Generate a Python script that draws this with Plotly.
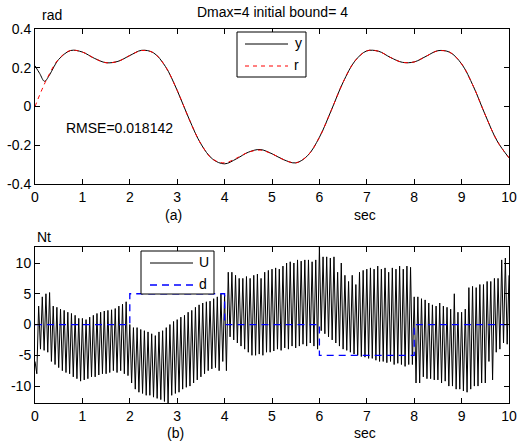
import numpy as np
import plotly.graph_objects as go

W, H = 518, 444

# ---- top panel: reference r and output y (rad) ----
t_r = np.arange(0, 10.001, 0.25)
r_vals = [0.000, 0.142, 0.245, 0.289, 0.281, 0.249, 0.226, 0.233, 0.263, 0.289,
          0.277, 0.207, 0.083, -0.064, -0.193, -0.272, -0.291, -0.267, -0.236, -0.225,
          -0.244, -0.275, -0.291, -0.254, -0.159, -0.020, 0.125, 0.235, 0.287, 0.285,
          0.253, 0.228, 0.230, 0.259, 0.287, 0.280, 0.220, 0.103, -0.044, -0.178,
          -0.265]

t_y = [0.0, 0.1, 0.2, 0.3, 0.4, 0.5] + list(np.arange(0.75, 10.001, 0.25))
y_vals = [0.210, 0.170, 0.130, 0.160, 0.205, 0.243,
          0.289, 0.281, 0.249, 0.226, 0.233, 0.263, 0.290, 0.277, 0.207, 0.083,
          -0.064, -0.193, -0.272, -0.296, -0.270, -0.236, -0.222, -0.244, -0.275,
          -0.291, -0.254, -0.159, -0.020, 0.125, 0.235, 0.287, 0.285, 0.253, 0.228,
          0.230, 0.259, 0.288, 0.280, 0.220, 0.103, -0.044, -0.178, -0.265]

rmse_text = "RMSE=0.018142"

# ---- bottom panel: control U and disturbance d (Nt) ----
u_vals = [
    # 0 - 1 s
    -6, -8, 3, -4, 4.5, -4.2, 5, -4.5, 5.2, -6, 3, -6.5, 2.8, -7, 2.5, -7.5,
    2.3, -7.8, 2, -8, 1.8, -8.5, 1.5, -8.8, 1, -9.2,
    # 1 - 2 s
    1, -9, 0.8, -8.8, 1.2, -8.5, 1.5, -8.5, 1.8, -8.2, 2, -8, 2.2, -8, 2.3, -7.8,
    2.4, -7.5, 2.6, -7.8, 3, -7.5, 3.3, -8, 3.7, -8.3,
    # 2 - 3 s
    0, -9.5, -0.5, -10.5, -0.5, -11, -0.8, -11.2, -1, -11.5, -1.2, -11.5, -1.5,
    -11.8, -1.8, -12, -1.2, -12.2, -1, -12.5, -0.5, -12.8, 0, -11.5, 0.5, -11.2,
    # 3 - 4 s
    0.8, -11, 1.2, -10.5, 1.5, -10.2, 2, -10, 2.3, -9.5, 2.8, -9, 3.2, -8.5, 3.5,
    -8, 3.7, -7.5, 3.8, -7.2, 4.2, -7, 4.5, -7.5, 5, -6,
    # 4 - 5 s
    4.8, -7.5, 8.5, -2, 8.5, -2.5, 8, -3, 7.5, -3.5, 7.5, -4, 7.8, -4.5, 7.5, -5,
    8, -5, 8.2, -4.8, 7.5, -5, 8.5, -4.5, 8.8, -4.5,
    # 5 - 6 s
    9, -4.3, 9.2, -4, 9, -4.2, 9.5, -3.8, 10, -4, 10.2, -3.5, 10, -3.8, 10.5,
    -3.5, 10.3, -3.2, 10.5, -3.5, 10.5, -3, 10.2, -3.5, 10.5, -4,
    # 6 - 7 s
    12.6, -1, 11, -1.5, 11, -2, 10.8, -2.5, 11, -3, 8.5, -3.5, 10, -4, 8, -4.2,
    7, -4.5, 8, -4.8, 6.5, -5, 8.5, -5.2, 8.8, -5.3,
    # 7 - 8 s
    9, -5.5, 9.2, -5.5, 9, -5.8, 9.5, -6, 9, -6, 9.2, -6.2, 8.5, -6, 9.2, -6.5,
    9, -6.3, 9.5, -6.5, 9, -6.8, 9.5, -6.5, 9.3, -6.5,
    # 8 - 9 s
    4.5, -9.5, 4.5, -9.5, 4.2, -8.5, 4, -8.8, 3.5, -8.8, 3.2, -9, 3, -9, 3.5,
    -9.5, 3, -9.2, 2.8, -10, 2.5, -10, 5, -10.5, 2, -10.5,
    # 9 - 10 s
    2, -10.8, 2.5, -11, 6, -10.5, 6.2, -10, 6, -10, 6.5, -9.5, 6.5, -9.5, 7, -6,
    7, -9, 7.5, -4.5, 7.5, -4, 10.5, -3, 10.8, -3.2, 8,
]
t_u = np.linspace(0, 10, len(u_vals))

d_t = [0, 2, 2, 4, 4, 6, 6, 8, 8, 10]
d_vals = [0, 0, 5, 5, 0, 0, -5, -5, 0, 0]

x_ticks = list(range(0, 11))
top_ticks = [-0.4, -0.2, 0, 0.2, 0.4]
top_ticktext = ["-0.4", "-0.2", "0", "0.2", "0.4"]
bot_ticks = [-10, -5, 0, 5, 10]
bot_ticktext = ["-10", "-5", "0", "5", "10"]

FONT = "Liberation Sans, Arial, sans-serif"
RED_DASH = "4px,4px"
BLUE_DASH = "7px,5px"


def px(x):
    return x / W


def py(y):
    return 1 - y / H


fig = go.Figure()

fig.add_trace(go.Scatter(x=t_y, y=y_vals, mode="lines", name="y",
                         line=dict(color="black", width=1, shape="spline"),
                         xaxis="x", yaxis="y", showlegend=False))
fig.add_trace(go.Scatter(x=t_r, y=r_vals, mode="lines", name="r",
                         line=dict(color="red", width=1, dash=RED_DASH, shape="spline"),
                         xaxis="x", yaxis="y", showlegend=False))

fig.add_trace(go.Scatter(x=t_u, y=u_vals, mode="lines", name="U",
                         line=dict(color="black", width=1),
                         xaxis="x2", yaxis="y2", showlegend=False))
fig.add_trace(go.Scatter(x=d_t, y=d_vals, mode="lines", name="d",
                         line=dict(color="blue", width=1.3, dash=BLUE_DASH),
                         xaxis="x2", yaxis="y2", showlegend=False))

axis_common = dict(showline=True, linecolor="black", linewidth=1, mirror="ticks",
                   ticks="inside", ticklen=5, tickcolor="black", showgrid=False,
                   zeroline=False, automargin=False,
                   tickfont=dict(family=FONT, size=14, color="black"))

xdom = [px(35), px(509)]
fig.update_layout(
    width=W, height=H,
    margin=dict(l=0, r=0, t=0, b=0),
    paper_bgcolor="white", plot_bgcolor="white",
    font=dict(family=FONT, size=14, color="black"),
    xaxis=dict(domain=xdom, range=[0, 10], tickvals=x_ticks, anchor="y", **axis_common),
    yaxis=dict(domain=[py(184), py(29)], range=[-0.4, 0.4], tickvals=top_ticks,
               ticktext=top_ticktext, anchor="x", **axis_common),
    xaxis2=dict(domain=xdom, range=[0, 10], tickvals=x_ticks, anchor="y2", **axis_common),
    yaxis2=dict(domain=[py(403), py(247)], range=[-12.75, 12.6], tickvals=bot_ticks,
                ticktext=bot_ticktext, anchor="x2", **axis_common),
)

ann = []


def text(x, y, s, xanchor="center"):
    ann.append(dict(x=px(x), y=py(y), xref="paper", yref="paper", text=s,
                    showarrow=False, xanchor=xanchor, yanchor="middle",
                    font=dict(family=FONT, size=14, color="black")))


text(272, 12, "Dmax=4 initial bound= 4")
text(40, 15, "rad", "left")
text(119, 128, rmse_text)
text(173, 215, "(a)")
text(365, 215, "sec")
text(35, 237, "Nt", "left")
text(175, 433, "(b)")
text(365, 433, "sec")

shapes = []


def rect(x0, y0, x1, y1):
    shapes.append(dict(type="rect", xref="paper", yref="paper", x0=px(x0), x1=px(x1),
                       y0=py(y1), y1=py(y0), line=dict(color="black", width=1),
                       fillcolor="white", layer="above"))


def sample(x0, x1, y, color, dash, width=1):
    shapes.append(dict(type="line", xref="paper", yref="paper", x0=px(x0), x1=px(x1),
                       y0=py(y), y1=py(y), line=dict(color=color, width=width, dash=dash),
                       layer="above"))


# legend of the top panel
rect(237, 32, 306, 77)
sample(245, 288, 44, "black", "solid")
sample(245, 288, 66, "red", RED_DASH)
text(298, 43, "y")
text(296, 65, "r")

# legend of the bottom panel
rect(141, 251, 214, 294)
sample(150, 193, 263, "black", "solid")
sample(150, 193, 285, "blue", BLUE_DASH, 1.3)
text(204, 262, "U")
text(203, 284, "d")

fig.update_layout(annotations=ann, shapes=shapes)

fig.write_html("out.html")
